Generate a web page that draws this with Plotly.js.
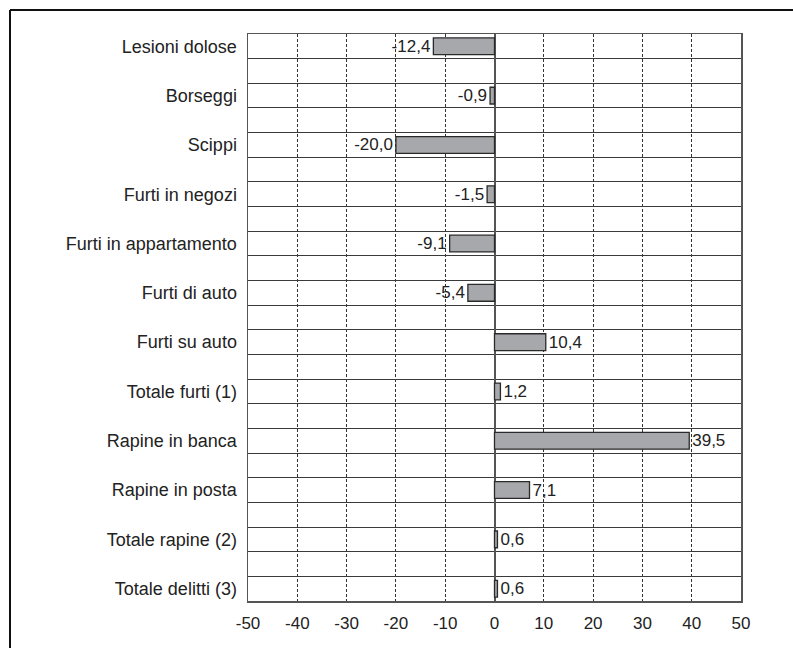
<!DOCTYPE html>
<html>
<head>
<meta charset="utf-8">
<script src="https://cdn.plot.ly/plotly-3.0.1.min.js"></script>
<style>
  html, body { margin: 0; padding: 0; background: #fff; }
  #chart { width: 793px; height: 648px; }
</style>
</head>
<body>
<div id="chart"></div>
<script>
const categories = [
  "Lesioni dolose", "Borseggi", "Scippi", "Furti in negozi",
  "Furti in appartamento", "Furti di auto", "Furti su auto",
  "Totale furti (1)", "Rapine in banca", "Rapine in posta",
  "Totale rapine (2)", "Totale delitti (3)"
];
const values = [-12.4, -0.9, -20.0, -1.5, -9.1, -5.4, 10.4, 1.2, 39.5, 7.1, 0.6, 0.6];
const xTicks = [-50, -40, -30, -20, -10, 0, 10, 20, 30, 40, 50];

// each category takes one row, with a blank row between categories
const positions = categories.map((_, i) => i * 2);
const labels = values.map(v => v.toFixed(1).replace('.', ','));
const nRows = positions[positions.length - 1] + 1;

const W = 793, H = 648;
const margin = { l: 248, r: 52, t: 34, b: 47 };
const family = "Liberation Sans, Arial, Helvetica, sans-serif";
const font = { family: family, size: 18, color: "#222" };
const tickFont = { family: family, size: 17, color: "#222" };
const valFont = { family: family, size: 17, color: "#222" };

const trace = {
  type: "bar",
  orientation: "h",
  x: values,
  y: positions,
  width: 0.68,
  text: labels,
  textposition: "outside",
  textfont: valFont,
  constraintext: "none",
  cliponaxis: false,
  marker: { color: "#a7a8ab", line: { color: "#2a2a2a", width: 1.3 } },
  hoverinfo: "skip"
};

// frame line around the picture (left and top edges visible)
const px = (x) => (x - margin.l) / (W - margin.l - margin.r);
const py = (y) => 1 - (y - margin.t) / (H - margin.t - margin.b);

const layout = {
  width: W, height: H,
  margin: margin,
  paper_bgcolor: "#fff",
  plot_bgcolor: "#fff",
  showlegend: false,
  font: font,
  xaxis: {
    range: [-50, 50],
    tickvals: xTicks,
    ticktext: xTicks.map(String),
    ticks: "",
    ticklabelstandoff: 6,
    showgrid: true,
    gridcolor: "#333",
    gridwidth: 1,
    griddash: "3px,2px",
    zeroline: true,
    zerolinecolor: "#555",
    zerolinewidth: 2,
    showline: true,
    linecolor: "#555",
    linewidth: 1.5,
    mirror: true,
    tickfont: tickFont,
    fixedrange: true
  },
  yaxis: {
    range: [nRows - 0.5, -0.5],
    tickvals: positions,
    ticktext: categories,
    ticks: "",
    ticklabelstandoff: 6,
    showgrid: false,
    zeroline: false,
    showline: true,
    linecolor: "#555",
    linewidth: 1.5,
    mirror: true,
    tickfont: font,
    fixedrange: true
  },
  yaxis2: {
    overlaying: "y",
    range: [nRows - 0.5, -0.5],
    tick0: -0.5,
    dtick: 1,
    showticklabels: false,
    ticks: "",
    showgrid: true,
    gridcolor: "#3a3a3a",
    gridwidth: 1,
    zeroline: false,
    fixedrange: true
  },
  shapes: [
    { type: "line", xref: "paper", yref: "paper", x0: px(10), x1: px(W + 5), y0: py(10), y1: py(10),
      line: { color: "#111", width: 2 } },
    { type: "line", xref: "paper", yref: "paper", x0: px(10), x1: px(10), y0: py(10), y1: py(H + 5),
      line: { color: "#111", width: 2 } }
  ]
};

// invisible trace to activate yaxis2 grid
const gridTrace = { type: "scatter", x: [0], y: [0], yaxis: "y2", mode: "markers",
  marker: { opacity: 0 }, hoverinfo: "skip" };

Plotly.newPlot("chart", [gridTrace, trace], layout, { displayModeBar: false, staticPlot: true });
</script>
</body>
</html>
